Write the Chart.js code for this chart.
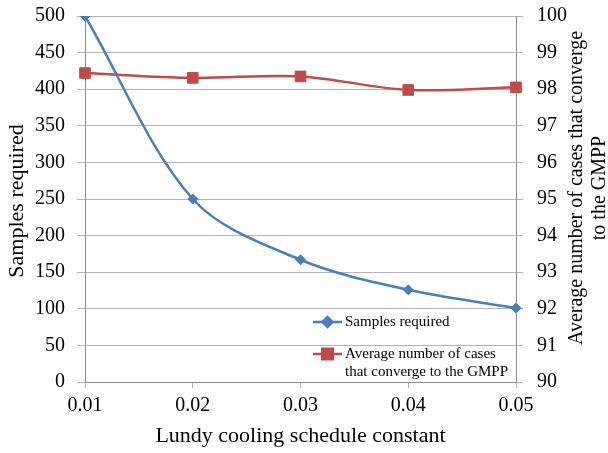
<!DOCTYPE html>
<html>
<head>
<meta charset="utf-8">
<script src="https://cdn.jsdelivr.net/npm/chart.js@4"></script>
<style>
  html, body { margin: 0; padding: 0; background: #fff; }
  canvas { display: block; }
</style>
</head>
<body>
<canvas id="chart" width="608" height="453"></canvas>
<script>
// Lundy cooling constant sweep
const coolingConstants = ["0.01", "0.02", "0.03", "0.04", "0.05"];
const samplesRequired = [500, 250, 167, 126, 101];
const convergedCases = [98.44, 98.31, 98.35, 97.98, 98.05];

const samplesLabel = "Samples required";
const convergedLabel = ["Average number of cases", "that converge to the GMPP"];
const xTitle = "Lundy cooling schedule constant";
const leftTitle = "Samples required";
const rightTitle = ["Average number of cases that converge", "to the GMPP"];

const SERIF = '"Liberation Serif", "Times New Roman", Times, serif';
const BLUE = "#4A7EBB";
const RED = "#BE4B48";
const GRID = "#b4b4b4";
const AXIS = "#8c8c8c";

Chart.defaults.font.family = SERIF;

function marker(ctx, style, x, y, r, color) {
    Chart.helpers.drawPoint(ctx, { pointStyle: style, radius: r, borderWidth: 1 }, x, y);
    ctx.fillStyle = color;
    ctx.fill();
}

// y titles (right one reads bottom-to-top like the left) and the inset legend
const extras = {
    id: "extras",
    afterDraw(chart) {
        const ctx = chart.ctx;
        const area = chart.chartArea;
        ctx.save();
        ctx.fillStyle = "#000";
        ctx.textAlign = "center";
        ctx.textBaseline = "middle";

        ctx.font = "22px " + SERIF;
        ctx.save();
        ctx.translate(17, (area.top + area.bottom) / 2 + 2);
        ctx.rotate(-Math.PI / 2);
        ctx.fillText(leftTitle, 0, 0);
        ctx.restore();

        ctx.font = "20px " + SERIF;
        ctx.save();
        ctx.translate(577, 188);
        ctx.rotate(-Math.PI / 2);
        ctx.fillText(rightTitle[0], 0, 0);
        ctx.fillText(rightTitle[1], 0, 23);
        ctx.restore();

        // legend
        const lx = area.right - 203;
        const entries = [
            { color: BLUE, style: "rectRot", r: 5, y: 322, lines: [samplesLabel] },
            { color: RED, style: "rect", r: 7.5, y: 354, lines: convergedLabel }
        ];
        ctx.textAlign = "left";
        ctx.font = "15px " + SERIF;
        entries.forEach(e => {
            ctx.strokeStyle = e.color;
            ctx.lineWidth = 2.5;
            ctx.beginPath();
            ctx.moveTo(lx, e.y);
            ctx.lineTo(lx + 29, e.y);
            ctx.stroke();
            marker(ctx, e.style, lx + 14.5, e.y, e.r, e.color);
            ctx.fillStyle = "#000";
            e.lines.forEach((t, i) => ctx.fillText(t, lx + 32, e.y + i * 18));
        });
        ctx.restore();
    }
};

function fixY(width) {
    return s => {
        s.width = width;
        s.paddingTop = 0;
        s.paddingBottom = 0;
    };
}

new Chart(document.getElementById("chart"), {
    type: "line",
    data: {
        labels: coolingConstants,
        datasets: [
            {
                label: samplesLabel,
                data: samplesRequired,
                yAxisID: "y",
                borderColor: BLUE,
                backgroundColor: BLUE,
                borderWidth: 2.5,
                pointStyle: "rectRot",
                pointRadius: 5,
                pointBorderWidth: 1,
                tension: 0.33
            },
            {
                label: convergedLabel.join(" "),
                data: convergedCases,
                yAxisID: "y1",
                borderColor: RED,
                backgroundColor: RED,
                borderWidth: 2.5,
                pointStyle: "rect",
                pointRadius: 7.5,
                pointBorderWidth: 1,
                tension: 0.33
            }
        ]
    },
    options: {
        responsive: false,
        animation: false,
        layout: { padding: { top: 16 } },
        plugins: {
            legend: { display: false },
            tooltip: { enabled: false }
        },
        scales: {
            x: {
                offset: false,
                grid: { drawOnChartArea: false, color: GRID, tickLength: 6 },
                border: { color: AXIS },
                ticks: { color: "#000", font: { family: SERIF, size: 20 }, padding: 6, maxRotation: 0 },
                title: {
                    display: true,
                    text: xTitle,
                    color: "#000",
                    font: { family: SERIF, size: 22 },
                    padding: { top: 2 }
                },
                afterFit: s => { s.height = 71; }
            },
            y: {
                position: "left",
                min: 0,
                max: 500,
                grid: { color: GRID, tickLength: 8 },
                border: { color: AXIS },
                ticks: { stepSize: 50, color: "#000", font: { family: SERIF, size: 20 }, padding: 12 },
                afterFit: fixY(85)
            },
            y1: {
                position: "right",
                min: 90,
                max: 100,
                grid: { drawOnChartArea: false, color: GRID, tickLength: 7 },
                border: { color: AXIS },
                ticks: { stepSize: 1, color: "#000", font: { family: SERIF, size: 20 }, padding: 14 },
                afterFit: fixY(92)
            }
        }
    },
    plugins: [extras]
});
</script>
</body>
</html>
